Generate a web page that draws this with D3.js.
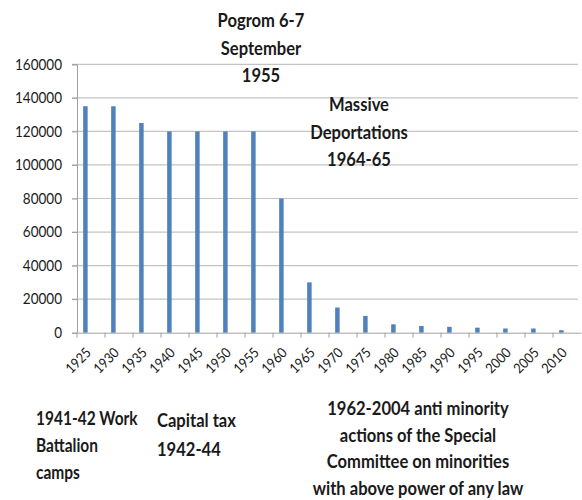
<!DOCTYPE html>
<html>
<head>
<meta charset="utf-8">
<script src="https://cdn.jsdelivr.net/npm/d3@7"></script>
<style>
  html, body { margin: 0; padding: 0; background: #fff; }
  svg { display: block; }
  text { font-family: Lato, "Open Sans", sans-serif; fill: #1a1a1a; }
</style>
</head>
<body>
<svg id="chart" width="582" height="500"></svg>
<script>
const years = ["1925","1930","1935","1940","1945","1950","1955","1960","1965","1970","1975","1980","1985","1990","1995","2000","2005","2010"];
const population = [135000,135000,125000,120000,120000,120000,120000,80000,30000,15000,10000,5000,4000,3500,3000,2500,2500,1500];
const yTicks = [0,20000,40000,60000,80000,100000,120000,140000,160000];
const topNoteA = ["Pogrom 6-7","September","1955"];
const topNoteB = ["Massive","Deportations","1964-65"];
const bottomNoteA = ["1941-42 Work","Battalion","camps"];
const bottomNoteB = ["Capital tax","1942-44"];
const bottomNoteC = ["1962-2004 anti minority","actions of the Special","Committee on minorities","with above power of any law"];

const svg = d3.select("#chart");
const plotLeft = 77, plotRight = 581, plotTop = 64.3, plotBottom = 332.7;

const x = d3.scaleBand().domain(years).range([plotLeft, plotRight]);
const y = d3.scaleLinear().domain([0, 160000]).range([plotBottom, plotTop]);

// condense text horizontally (reference uses a narrow font)
function condense(sel, k) {
  sel.each(function () {
    const len = this.getComputedTextLength();
    d3.select(this).attr("textLength", len * k).attr("lengthAdjust", "spacingAndGlyphs");
  });
}

// gridlines
svg.append("g").selectAll("line").data(yTicks.filter(d => d > 0)).join("line")
  .attr("x1", plotLeft - 5).attr("x2", 578)
  .attr("y1", d => y(d)).attr("y2", d => y(d))
  .attr("stroke", "#c4c4c4").attr("stroke-width", 1.2);

// y axis
const yAxis = d3.axisLeft(y).tickValues(yTicks).tickSize(5).tickFormat(d3.format("d"));
const gy = svg.append("g").attr("transform", `translate(${plotLeft},0)`).call(yAxis);
gy.select(".domain").attr("stroke", "#a0a0a0");
gy.selectAll(".tick line").attr("stroke", "#a0a0a0");
gy.selectAll(".tick text").attr("x", -15).attr("font-size", 15)
  .style("font-family", "Lato, sans-serif").attr("fill", "#222")
  .call(condense, 0.9);

// bars
svg.append("g").selectAll("rect").data(years).join("rect")
  .attr("x", (d) => x(d) + x.bandwidth() * 0.22)
  .attr("width", x.bandwidth() * 0.16)
  .attr("y", (d, i) => y(population[i]))
  .attr("height", (d, i) => y(0) - y(population[i]))
  .attr("fill", "#4f81bd");

// x axis
const xAxis = d3.axisBottom(x).tickSize(0).tickSizeOuter(0).tickFormat("");
const gx = svg.append("g").attr("transform", `translate(0,${plotBottom})`).call(xAxis);
gx.select(".domain").attr("stroke", "#a0a0a0");
// tick marks at category boundaries
svg.append("g").selectAll("line").data(years).join("line")
  .attr("x1", d => x(d)).attr("x2", d => x(d))
  .attr("y1", plotBottom).attr("y2", plotBottom + 5)
  .attr("stroke", "#a0a0a0");
// rotated labels
svg.append("g").selectAll("text").data(years).join("text")
  .attr("transform", d => `translate(${x(d) + x.bandwidth() / 2 + 1},${plotBottom + 21}) rotate(-45)`)
  .attr("text-anchor", "end").attr("font-size", 14)
  .text(d => d)
  .call(condense, 0.9);

// annotations
function note(lines, cx, baseline, anchor, gap, k) {
  svg.append("g").selectAll("text").data(lines).join("text")
    .attr("x", cx).attr("y", (d, i) => baseline + i * gap)
    .attr("text-anchor", anchor).attr("font-size", 18).attr("font-weight", "bold")
    .attr("fill", "#1a1a1a")
    .text(d => d)
    .call(condense, k);
}
note(topNoteA, 261, 27, "middle", 27.5, 0.92);
note(topNoteB, 359, 111, "middle", 27.5, 0.92);
note(bottomNoteA, 36, 425, "start", 27, 0.86);
note(bottomNoteB, 157, 427, "start", 29, 0.92);
note(bottomNoteC, 418, 415, "middle", 26.7, 0.92);
</script>
</body>
</html>
